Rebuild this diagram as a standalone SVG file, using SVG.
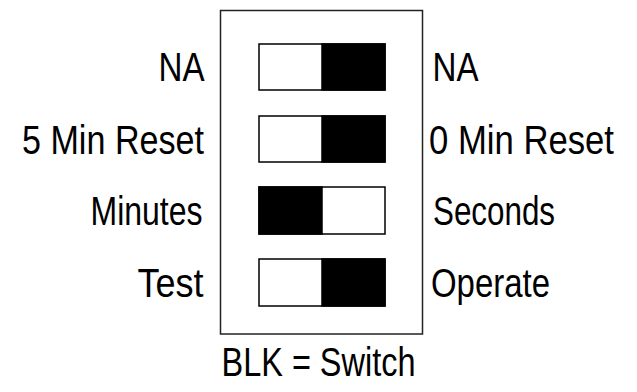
<svg xmlns="http://www.w3.org/2000/svg" width="637" height="392" viewBox="0 0 637 392">
<style>
text{font-family:"Liberation Sans",Arial,sans-serif;font-size:40px;fill:#000}
.sw{fill:#fff;stroke:#000;stroke-width:1.5}
.blk{fill:#000;stroke:#000;stroke-width:1.5}
</style>
<rect width="637" height="392" fill="#fff"/>
<g id="housing"><rect x="220.5" y="10.5" width="202" height="323.5" fill="#fff" stroke="#222" stroke-width="1.5"/></g>
<g id="switch1"><rect class="sw" x="259" y="44" width="126" height="46"/><rect class="blk" x="322" y="44" width="63" height="46"/></g>
<g id="switch2"><rect class="sw" x="259" y="116" width="126" height="46"/><rect class="blk" x="322" y="116" width="63" height="46"/></g>
<g id="switch3"><rect class="sw" x="259" y="187" width="126" height="47"/><rect class="blk" x="259" y="187" width="63" height="47"/></g>
<g id="switch4"><rect class="sw" x="259" y="259" width="126" height="47"/><rect class="blk" x="322" y="259" width="63" height="47"/></g>
<g id="labels-left">
<text x="158.5" y="81" textLength="46" lengthAdjust="spacingAndGlyphs">NA</text>
<text x="22" y="154" textLength="182" lengthAdjust="spacingAndGlyphs">5 Min Reset</text>
<text x="90.5" y="224.5" textLength="112" lengthAdjust="spacingAndGlyphs">Minutes</text>
<text x="137.5" y="297" textLength="66" lengthAdjust="spacingAndGlyphs">Test</text>
</g>
<g id="labels-right">
<text x="432.5" y="81" textLength="46" lengthAdjust="spacingAndGlyphs">NA</text>
<text transform="translate(429 154) scale(0.867 1)">0 Min Reset</text>
<text x="433" y="224.5" textLength="122" lengthAdjust="spacingAndGlyphs">Seconds</text>
<text x="431" y="297" textLength="119" lengthAdjust="spacingAndGlyphs">Operate</text>
</g>
<g id="caption"><text x="221.5" y="376" textLength="194" lengthAdjust="spacingAndGlyphs">BLK = Switch</text></g>
</svg>
